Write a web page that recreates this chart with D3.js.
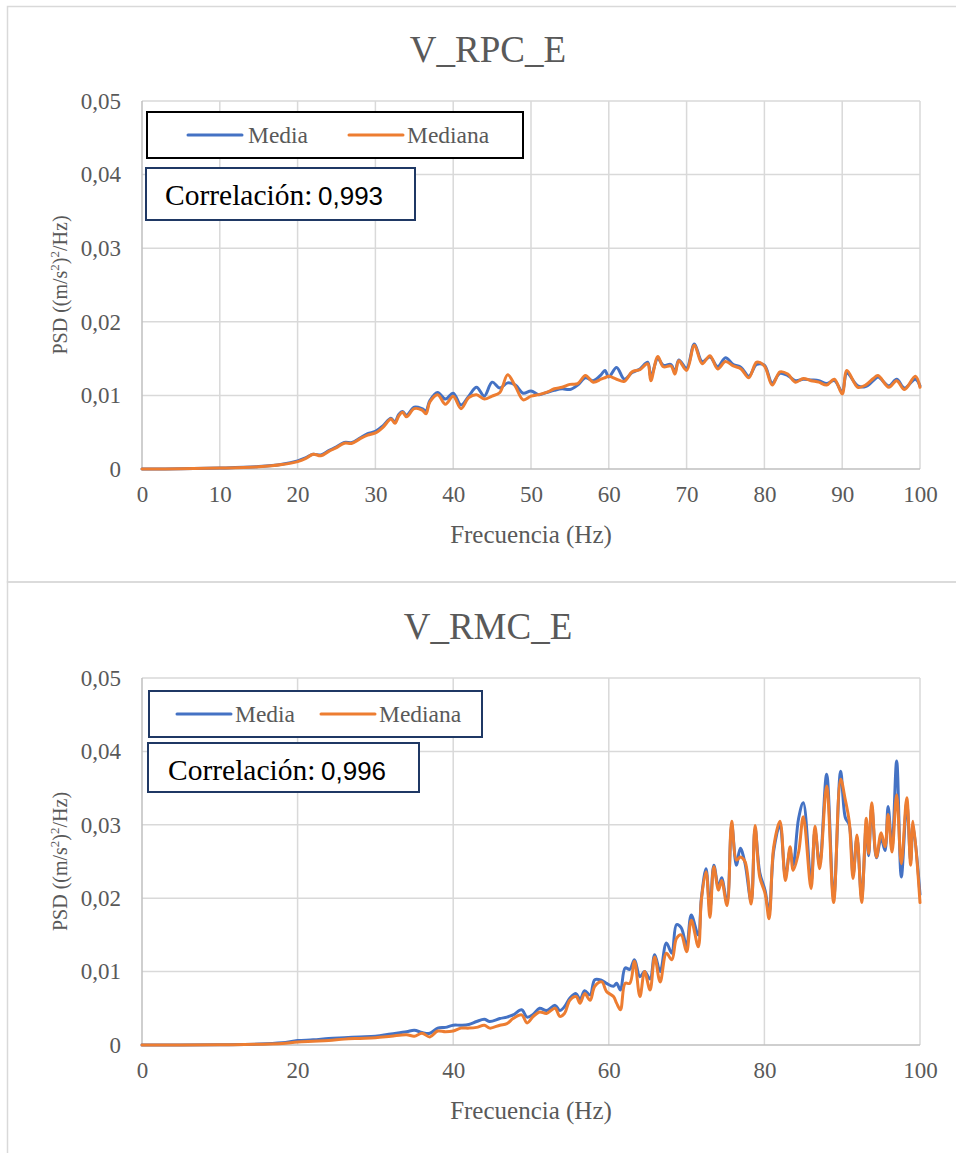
<!DOCTYPE html>
<html>
<head>
<meta charset="utf-8">
<script src="https://cdn.jsdelivr.net/npm/d3@7"></script>
<style>
  html, body { margin: 0; padding: 0; background: #fff; }
  svg { display: block; }
</style>
</head>
<body>
<svg id="chart" width="956" height="1153"></svg>
<script>
// ---------------- DATA ----------------
const yTicks = [0, 0.01, 0.02, 0.03, 0.04, 0.05];
const topXTicks = [0, 10, 20, 30, 40, 50, 60, 70, 80, 90, 100];
const botXTicks = [0, 20, 40, 60, 80, 100];
const seriesNames = ["Media", "Mediana"];

// V_RPC_E
const topFreq = [
  0, 5, 10, 15, 18, 20, 21, 22, 23, 24,
  25, 26, 27, 28, 29, 30, 31, 32, 32.5, 33,
  33.5, 34, 35, 36, 36.5, 37, 38, 39, 40, 41,
  42, 43, 44, 45, 46, 47, 48, 49, 50, 51,
  52, 53, 54, 55, 56, 57, 58, 59, 59.5, 60,
  61, 62, 63, 64, 65, 65.4, 66.3, 67, 68, 68.5,
  69, 70, 71, 72, 73, 74, 75, 76, 77, 78,
  79, 80, 81, 82, 83, 84, 85, 86, 87, 88,
  89, 90, 90.6, 92, 93, 94, 94.6, 96, 97, 98,
  99.4, 100
];
const topMedia = [
  0, 0.00003, 0.00013, 0.00033, 0.00065, 0.0011, 0.0015, 0.0020, 0.0019, 0.0025,
  0.0030, 0.0036, 0.0036, 0.0042, 0.0048, 0.0051, 0.0059, 0.0069, 0.0064, 0.0074,
  0.0078, 0.0073, 0.0084, 0.0082, 0.0079, 0.0093, 0.0104, 0.0095, 0.0103, 0.0087,
  0.0099, 0.0111, 0.0099, 0.0118, 0.0110, 0.0117, 0.0114, 0.0103, 0.0106, 0.0101,
  0.0104, 0.0107, 0.0109, 0.0108, 0.0114, 0.0124, 0.0120, 0.0128, 0.0134, 0.0125,
  0.0138, 0.0122, 0.0131, 0.0136, 0.0145, 0.0125, 0.0150, 0.0141, 0.0142, 0.0132,
  0.0148, 0.0137, 0.0170, 0.0146, 0.0152, 0.0139, 0.0151, 0.0142, 0.0138, 0.0126,
  0.0142, 0.0141, 0.0117, 0.0130, 0.0127, 0.0120, 0.0122, 0.0121, 0.0120, 0.0116,
  0.0120, 0.0105, 0.0130, 0.0113, 0.0112, 0.0120, 0.0125, 0.0113, 0.0122, 0.0110,
  0.0122, 0.0113
];
const topMediana = [
  0, 0.00003, 0.00012, 0.0003, 0.0006, 0.0010, 0.0014, 0.0020, 0.0018, 0.0024,
  0.0029, 0.0035, 0.0035, 0.0041, 0.0046, 0.0049, 0.0057, 0.0068, 0.0062, 0.0072,
  0.0077, 0.0071, 0.0082, 0.0080, 0.0075, 0.0091, 0.0101, 0.0088, 0.0099, 0.0082,
  0.0097, 0.0101, 0.0095, 0.0099, 0.0104, 0.0128, 0.0112, 0.0094, 0.0099, 0.0101,
  0.0104, 0.0109, 0.0111, 0.0115, 0.0116, 0.0127, 0.0118, 0.0122, 0.0124, 0.0126,
  0.0122, 0.0119, 0.0132, 0.0135, 0.0143, 0.0120, 0.0153, 0.0139, 0.0140, 0.0129,
  0.0147, 0.0134, 0.0168, 0.0143, 0.0154, 0.0136, 0.0146, 0.0140, 0.0136, 0.0124,
  0.0145, 0.0140, 0.0114, 0.0132, 0.0129, 0.0118, 0.0123, 0.0120, 0.0118, 0.0114,
  0.0122, 0.0102, 0.0134, 0.0111, 0.0114, 0.0123, 0.0127, 0.0111, 0.0120, 0.0108,
  0.0126, 0.0111
];

// V_RMC_E
const botFreq = [
  0, 5, 10, 15, 18, 20, 22, 24, 26, 28,
  30, 32, 34, 35, 36, 37, 38, 39, 40, 41,
  42, 43, 44, 44.7, 46, 46.9, 47.7, 48.8, 49.5, 50.3,
  51.1, 52, 53.1, 53.7, 54.3, 55, 55.8, 56.3, 56.9, 57.6,
  58.2, 59.1, 59.7, 60.6, 61, 61.5, 62.1, 62.7, 63.3, 64,
  64.6, 65.3, 65.9, 66.6, 67.4, 68.1, 68.7, 69.3, 70, 70.6,
  71.5, 71.9, 72.5, 73, 73.5, 74.1, 74.5, 75.2, 75.8, 76.4,
  76.9, 77.5, 78.3, 78.8, 79.4, 80.1, 80.6, 81.2, 82, 82.7,
  83.3, 83.7, 84.4, 85, 86, 86.5, 87.1, 88, 88.9, 89.8,
  90.4, 90.9, 91.4, 91.9, 92.5, 93.1, 93.4, 93.8, 94.4, 95,
  95.5, 95.9, 96.4, 97, 97.6, 98.3, 98.8, 99.1, 100
];
const botMedia = [
  0, 0.00001, 0.00004, 0.00012, 0.0003, 0.0006, 0.0007, 0.0009, 0.0010, 0.0011,
  0.0012, 0.0015, 0.0018, 0.0020, 0.0017, 0.0016, 0.0023, 0.0024, 0.0027, 0.0027,
  0.0028, 0.0032, 0.0035, 0.0032, 0.0036, 0.0038, 0.0041, 0.0048, 0.0038, 0.0042,
  0.0050, 0.0047, 0.0054, 0.0047, 0.0052, 0.0064, 0.0070, 0.0062, 0.0074, 0.0068,
  0.0089, 0.0088, 0.0084, 0.0080, 0.0084, 0.0075, 0.0105, 0.0103, 0.0116, 0.0093,
  0.0100, 0.0090, 0.0123, 0.0100, 0.0139, 0.0125, 0.0164, 0.0160, 0.0135, 0.0177,
  0.0150, 0.0200, 0.0240, 0.0185, 0.0245, 0.0215, 0.0228, 0.0195, 0.0300, 0.0245,
  0.0268, 0.0248, 0.0195, 0.0295, 0.0235, 0.0210, 0.0180, 0.0265, 0.0300, 0.0230,
  0.0265, 0.0245, 0.0309, 0.0330, 0.0222, 0.0292, 0.0245, 0.0369, 0.0200, 0.0373,
  0.0310, 0.0300, 0.0232, 0.0282, 0.0200, 0.0300, 0.0258, 0.0325, 0.0255, 0.0282,
  0.0265, 0.0325, 0.0270, 0.0387, 0.0229, 0.0330, 0.0250, 0.0300, 0.0205
];
const botMediana = [
  0, 0.00001, 0.00003, 0.0001, 0.0002, 0.0004, 0.0005, 0.0006, 0.0008, 0.0009,
  0.0010, 0.0012, 0.0014, 0.0012, 0.0016, 0.0011, 0.0019, 0.0018, 0.0019, 0.0023,
  0.0023, 0.0024, 0.0027, 0.0023, 0.0027, 0.0029, 0.0036, 0.0041, 0.0030, 0.0039,
  0.0045, 0.0043, 0.0050, 0.0039, 0.0043, 0.0061, 0.0066, 0.0057, 0.0070, 0.0061,
  0.0080, 0.0086, 0.0073, 0.0066, 0.0057, 0.0048, 0.0084, 0.0084, 0.0114, 0.0066,
  0.0100, 0.0075, 0.0120, 0.0086, 0.0125, 0.0116, 0.0145, 0.0150, 0.0127, 0.0170,
  0.0134, 0.0198, 0.0236, 0.0174, 0.0243, 0.0211, 0.0224, 0.0190, 0.0305, 0.0252,
  0.0256, 0.0250, 0.0192, 0.0299, 0.0229, 0.0206, 0.0172, 0.0270, 0.0305, 0.0224,
  0.0270, 0.0238, 0.0263, 0.0311, 0.0213, 0.0298, 0.0240, 0.0353, 0.0194, 0.0362,
  0.0334, 0.0305, 0.0227, 0.0286, 0.0194, 0.0309, 0.0261, 0.0330, 0.0256, 0.0289,
  0.0270, 0.0314, 0.0263, 0.0341, 0.0247, 0.0337, 0.0245, 0.0305, 0.0194
];

// ---------------- DRAWING ----------------
const svg = d3.select("#chart");
const SERIF = "'Liberation Serif','Times New Roman',serif";
const SANS = "'Liberation Sans',Arial,sans-serif";
const GREY = "#595959";
const colors = { Media: "#4472C4", Mediana: "#ED7D31" };
const fmt = v => v === 0 ? "0" : d3.format(".2f")(v).replace(".", ",");

// panel borders
svg.append("rect").attr("x", 7.5).attr("y", 6.5).attr("width", 960).attr("height", 575.5)
  .attr("fill", "none").attr("stroke", "#d9d9d9").attr("stroke-width", 1.5);
svg.append("rect").attr("x", 7.5).attr("y", 582).attr("width", 960).attr("height", 590)
  .attr("fill", "none").attr("stroke", "#d9d9d9").attr("stroke-width", 1.5);

const charts = [
  {
    title: "V_RPC_E", freq: topFreq, media: topMedia, mediana: topMediana, xTicks: topXTicks,
    corr: "0,993", top: 101, bottom: 469, titleY: 62,
    legend: { x: 147, y: 112, w: 376, h: 46, stroke: "#000", l1: 188, t1: 248, l2: 349, t2: 407 },
    corrBox: { x: 146, y: 168, w: 269, h: 52, tx: 165, nx: 318, by: 205 }
  },
  {
    title: "V_RMC_E", freq: botFreq, media: botMedia, mediana: botMediana, xTicks: botXTicks,
    corr: "0,996", top: 678, bottom: 1045, titleY: 639,
    legend: { x: 149, y: 691, w: 333, h: 46, stroke: "#1f3864", l1: 177, t1: 235, l2: 321, t2: 379 },
    corrBox: { x: 148, y: 743, w: 271, h: 49, tx: 168, nx: 321, by: 780 }
  }
];

const left = 142, right = 920;

charts.forEach(c => {
  const x = d3.scaleLinear().domain([0, 100]).range([left, right]);
  const y = d3.scaleLinear().domain([0, 0.05]).range([c.bottom, c.top]);
  const g = svg.append("g");

  // title
  g.append("text").attr("x", 488).attr("y", c.titleY).attr("text-anchor", "middle")
    .attr("font-family", SERIF).attr("font-size", 37).attr("fill", GREY).text(c.title);

  // gridlines
  g.append("g").selectAll("line.h").data(yTicks.filter(v => v > 0)).join("line")
    .attr("x1", left).attr("x2", right).attr("y1", d => y(d)).attr("y2", d => y(d))
    .attr("stroke", "#d9d9d9").attr("stroke-width", 1.5);
  g.append("g").selectAll("line.v").data(c.xTicks.filter(v => v > 0)).join("line")
    .attr("x1", d => x(d)).attr("x2", d => x(d)).attr("y1", c.top).attr("y2", c.bottom)
    .attr("stroke", "#d9d9d9").attr("stroke-width", 1.5);

  // axes lines
  g.append("line").attr("x1", left).attr("x2", left).attr("y1", c.top).attr("y2", c.bottom)
    .attr("stroke", "#bfbfbf").attr("stroke-width", 1.5);
  g.append("line").attr("x1", left).attr("x2", right).attr("y1", c.bottom).attr("y2", c.bottom)
    .attr("stroke", "#bfbfbf").attr("stroke-width", 1.5);

  // y tick labels (via d3 axis, then styled)
  const yAxis = g.append("g").attr("transform", `translate(${left},0)`)
    .call(d3.axisLeft(y).tickValues(yTicks).tickFormat(fmt).tickSize(0).tickPadding(21));
  yAxis.select(".domain").remove();
  yAxis.selectAll("text").attr("font-family", SERIF).attr("font-size", 23).attr("fill", GREY);

  const xAxis = g.append("g").attr("transform", `translate(0,${c.bottom})`)
    .call(d3.axisBottom(x).tickValues(c.xTicks).tickFormat(d3.format("d")).tickSize(0).tickPadding(17));
  xAxis.select(".domain").remove();
  xAxis.selectAll("text").attr("font-family", SERIF).attr("font-size", 23).attr("fill", GREY);

  // axis titles
  g.append("text").attr("x", 531).attr("y", c.bottom + 74).attr("text-anchor", "middle")
    .attr("font-family", SERIF).attr("font-size", 25).attr("fill", GREY).text("Frecuencia (Hz)");

  const yt = g.append("text")
    .attr("transform", `translate(67,${(c.top + c.bottom) / 2}) rotate(-90)`)
    .attr("text-anchor", "middle").attr("font-family", SERIF).attr("font-size", 20).attr("fill", GREY);
  yt.append("tspan").text("PSD ((m/s");
  yt.append("tspan").attr("font-size", 13).attr("dy", -8).text("2");
  yt.append("tspan").attr("dy", 8).text(")");
  yt.append("tspan").attr("font-size", 13).attr("dy", -8).text("2");
  yt.append("tspan").attr("dy", 8).text("/Hz)");

  // lines
  const line = d3.line().x(d => x(d[0])).y(d => y(d[1])).curve(d3.curveCatmullRom.alpha(0.5));
  const n = Math.min(c.freq.length, c.media.length, c.mediana.length);
  const mediaPts = d3.range(n).map(i => [c.freq[i], c.media[i]]);
  const medianaPts = d3.range(n).map(i => [c.freq[i], c.mediana[i]]);
  g.append("path").datum(mediaPts).attr("d", line).attr("fill", "none")
    .attr("stroke", colors.Media).attr("stroke-width", 3).attr("stroke-linejoin", "round").attr("stroke-linecap", "round");
  g.append("path").datum(medianaPts).attr("d", line).attr("fill", "none")
    .attr("stroke", colors.Mediana).attr("stroke-width", 3).attr("stroke-linejoin", "round").attr("stroke-linecap", "round");

  // legend
  const L = c.legend;
  g.append("rect").attr("x", L.x).attr("y", L.y).attr("width", L.w).attr("height", L.h)
    .attr("fill", "#fff").attr("stroke", L.stroke).attr("stroke-width", 2);
  const ly = L.y + L.h / 2;
  [[L.l1, L.t1, seriesNames[0]], [L.l2, L.t2, seriesNames[1]]].forEach(([lx, tx, name]) => {
    g.append("line").attr("x1", lx).attr("x2", lx + 54).attr("y1", ly).attr("y2", ly)
      .attr("stroke", colors[name]).attr("stroke-width", 3).attr("stroke-linecap", "round");
    g.append("text").attr("x", tx).attr("y", ly + 8).attr("font-family", SERIF)
      .attr("font-size", 23.5).attr("fill", GREY).text(name);
  });

  // correlation box
  const C = c.corrBox;
  g.append("rect").attr("x", C.x).attr("y", C.y).attr("width", C.w).attr("height", C.h)
    .attr("fill", "#fff").attr("stroke", "#1f3864").attr("stroke-width", 2);
  g.append("text").attr("x", C.tx).attr("y", C.by).attr("font-family", SERIF)
    .attr("font-size", 29.5).attr("fill", "#000").text("Correlación:");
  g.append("text").attr("x", C.nx).attr("y", C.by).attr("font-family", SANS)
    .attr("font-size", 26).attr("fill", "#000").text(c.corr);
});
</script>
</body>
</html>
